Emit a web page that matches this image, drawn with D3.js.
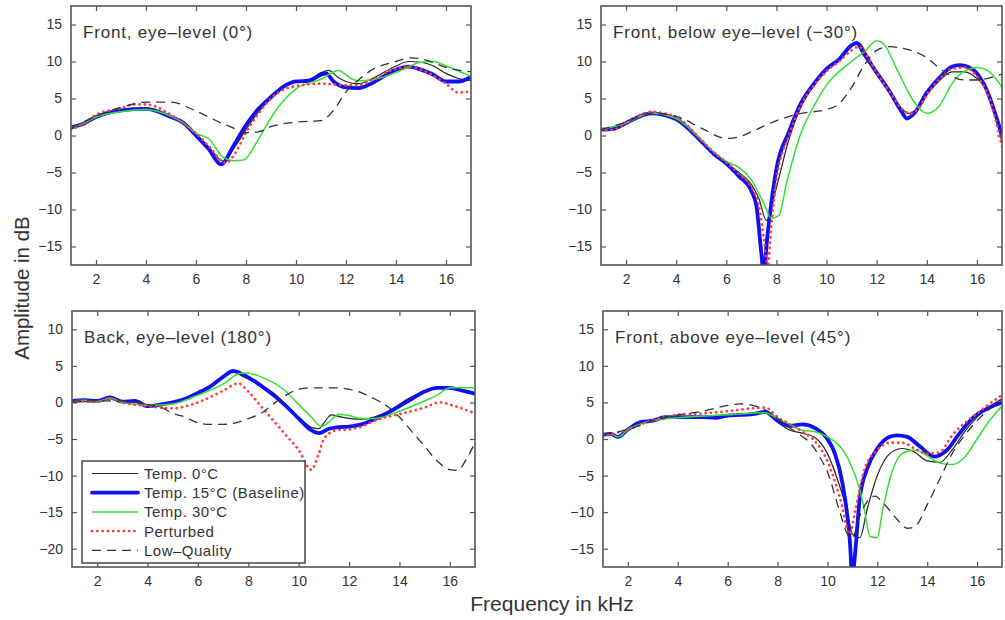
<!DOCTYPE html>
<html>
<head>
<meta charset="utf-8">
<script src="https://cdn.jsdelivr.net/npm/d3@7"></script>
<style>
body { margin: 0; background: #fff; }
svg text { font-family: "Liberation Sans", Arial, sans-serif; fill: #333; }
</style>
</head>
<body>
<div id="chart"></div>
<script>
// legend / series labels
const seriesNames = ["Temp. 0\u00b0C", "Temp. 15\u00b0C (Baseline)", "Temp. 30\u00b0C", "Perturbed", "Low\u2013Quality"];
const xTicks = [2, 4, 6, 8, 10, 12, 14, 16];
const yTicksA = [-15, -10, -5, 0, 5, 10, 15];
const yTicksB = [-20, -15, -10, -5, 0, 5, 10];
const panelTitles = ["Front, eye\u2013level (0\u00b0)", "Front, below eye\u2013level (\u221230\u00b0)",
                     "Back, eye\u2013level (180\u00b0)", "Front, above eye\u2013level (45\u00b0)"];

// ---- Front, eye-level (0°) : [kHz, dB]
const p1Temp0 = [[1,1.1],[1.5,1.6],[2,2.6],[3,3.4],[4,3.7],[5,2.6],[5.5,1.9],[6,0.2],[6.5,-1.5],[7.1,-3.5],[7.5,-1.8],[8,0.8],[8.5,3.2],[9,5],[9.5,6.5],[10,7.3],[10.5,7.5],[11,8.5],[11.3,8.8],[11.7,7.8],[12,7.3],[12.5,7],[13,7.6],[14,9.4],[14.5,10],[15,9.9],[15.5,9.4],[16,8.4],[16.5,7.7],[17,7.4]];
const p1Temp15 = [[1,1.1],[1.5,1.6],[2,2.5],[3,3.4],[4,3.6],[5,2.5],[5.5,1.7],[6,0],[6.5,-1.8],[7,-3.9],[7.5,-1.4],[8,1.4],[8.5,3.6],[9,5.2],[9.5,6.6],[10,7.3],[10.5,7.4],[11,8.2],[11.2,8.4],[11.5,7.3],[12,6.5],[12.5,6.4],[13,7],[14,8.9],[14.5,9.3],[15,8.9],[15.5,8.2],[16,7.3],[16.5,7.3],[17,7.9]];
const p1Temp30 = [[1,1.1],[1.5,1.6],[2,2.5],[3,3.2],[4,3.5],[5,2.6],[5.5,1.7],[6,0.3],[6.5,-0.4],[7.1,-3],[7.5,-3.4],[7.9,-3.3],[8.5,-0.5],[9,2.4],[9.5,4.7],[10,6.3],[11,7.6],[11.7,8.8],[12.2,7.7],[12.5,7.4],[13,7.5],[14,8.5],[15,9.9],[15.5,10],[16,9.4],[17,8]];
const p1Perturbed = [[1,0.8],[1.5,1.6],[2,2.8],[3,3.7],[3.5,4.2],[4,4.2],[5,2.8],[6,0.3],[6.5,-1.4],[7.2,-3.7],[7.6,-2.2],[8,0.4],[8.5,3],[9,5],[10,6.7],[11,7],[12,6.8],[12.5,6.8],[13,7.5],[14,9],[14.5,9.3],[15,8.9],[16,7],[16.5,5.8],[17,6]];
const p1LowQ = [[1,1],[2,2.6],[3,3.8],[4,4.5],[5,4.5],[6,3.3],[7,1.7],[7.5,1],[8,0.4],[8.5,0.5],[9,1.2],[10,1.8],[11,2],[11.5,3.4],[12,5.9],[12.5,7.5],[13,8.8],[14,10],[14.6,10.5],[15.2,10.2],[16,9.2],[17,8.6]];

// ---- Front, below eye-level (-30°)
const p2Temp0 = [[1,0.8],[1.5,0.9],[2,1.7],[3,3],[4,2.3],[5,-0.7],[5.5,-2.4],[6,-3.7],[6.5,-5],[7,-6.6],[7.3,-8.5],[7.6,-11.5],[8,-7],[8.5,-0.5],[9,4],[9.5,6.8],[10,8.8],[10.5,10.2],[11,12],[11.3,12.5],[11.6,11],[12,8.6],[12.5,6.2],[13,3.6],[13.3,3],[13.7,4],[14,5.5],[14.5,7.4],[15,8.6],[15.5,8.6],[16,7.7],[16.5,5.5],[17,-1]];
const p2Temp15 = [[1,0.8],[1.5,0.9],[2,1.7],[3,3],[4,2.2],[5,-0.8],[5.5,-2.5],[6,-3.8],[6.5,-5.5],[7,-7.5],[7.2,-9.5],[7.4,-16],[7.5,-19],[7.6,-15],[7.8,-9],[8,-4.5],[8.5,0.5],[9,4.5],[9.5,7],[10,9],[10.5,10.3],[11,12.2],[11.2,12.5],[11.5,11],[12,8.5],[12.5,6],[13,3.2],[13.2,2.3],[13.5,3],[14,5.8],[14.5,7.8],[15,9.3],[15.3,9.5],[15.8,9],[16.3,6.8],[17,0]];
const p2Temp30 = [[1,0.8],[2,1.7],[3,3],[4,2.3],[5,-0.6],[5.5,-2.2],[6,-3.5],[6.5,-4.3],[7,-6],[7.5,-9.2],[7.8,-11.2],[8.1,-10.8],[8.4,-6.5],[9,0.5],[9.5,4],[10,6.8],[11,10],[11.5,11.3],[12,12.8],[12.3,12.3],[12.8,9],[13.5,4.5],[14,3],[14.5,4],[15,7],[15.5,8.7],[16,9.2],[16.5,8.6],[17,6.5]];
const p2Perturbed = [[1,0.7],[1.5,0.8],[2,1.7],[3,3.2],[4,2.5],[5,-0.6],[5.5,-2.3],[6,-3.6],[6.5,-5.2],[7,-7],[7.3,-9.5],[7.5,-14],[7.65,-17.5],[7.8,-12],[8,-6],[8.5,0],[9,4.2],[9.5,6.8],[10,8.7],[10.5,10],[11,11.5],[11.3,12],[11.6,10.8],[12,8.5],[12.5,6],[13,3.6],[13.3,3],[13.7,3.8],[14,5.5],[14.5,7.6],[15,9],[15.5,9.2],[16,8],[16.5,5],[17,-1.5]];
const p2LowQ = [[1,0.8],[2,1.8],[3,3],[4,2.6],[5,1],[6,-0.4],[6.5,-0.2],[7,0.5],[8,2],[9,3],[10,3.5],[10.5,4.3],[11,6.5],[11.5,9.5],[12,11.5],[12.5,12],[13,11.8],[14,10.5],[14.5,9.1],[15,8],[15.5,7.5],[16,7.5],[16.5,7.8],[17,8.3]];

// ---- Back, eye-level (180°)
const p3Temp0 = [[1,0.2],[1.5,0.4],[2,0.2],[2.5,0.8],[3,0.2],[3.5,0.3],[4,-0.5],[4.5,-0.3],[5,0],[5.5,0.6],[6,1.2],[6.5,2.2],[7,3.4],[7.4,4.2],[7.8,3.5],[8.5,2.3],[9,1.3],[9.5,-0.3],[10,-2],[10.5,-3.4],[10.8,-3.6],[11,-2.8],[11.3,-1.7],[11.7,-2],[12.5,-2.3],[13.5,-1.3],[14.5,0.8],[15.5,2],[16,2],[17,1.3]];
const p3Temp15 = [[1,0.2],[1.5,0.3],[2,0.2],[2.5,0.7],[3,0.1],[3.5,0.2],[4,-0.5],[4.5,-0.3],[5,0],[5.5,0.5],[6,1.3],[6.5,2.2],[7,3.5],[7.4,4.3],[7.8,3.8],[8.5,2.3],[9,1],[9.5,-0.5],[10,-2.2],[10.5,-3.8],[10.8,-4.2],[11.2,-3.6],[11.5,-3.4],[12,-3.3],[12.5,-3],[13,-2.3],[13.5,-1.5],[14,-0.5],[14.5,0.5],[15,1.5],[15.5,2],[16,2],[16.5,1.6],[17,1.2]];
const p3Temp30 = [[1,0.2],[1.5,0.3],[2,0.1],[2.5,0.6],[3,0],[4,-0.4],[5,-0.2],[6,1],[7,2.5],[7.7,4],[8,4],[8.5,3.5],[9,2.7],[9.5,1.5],[10,-0.3],[10.5,-2],[10.9,-3.3],[11.2,-2.7],[11.6,-1.6],[12,-1.8],[12.5,-2.2],[13,-2.2],[14,-1.2],[15,0.2],[15.5,1],[16,2],[17,2]];
const p3Perturbed = [[1,0.2],[2,0.1],[2.5,0.5],[3,0],[4,-0.5],[5,-0.8],[6,0],[7,1.6],[7.6,2.6],[8,1.5],[8.5,-0.5],[9,-2.5],[9.5,-4.5],[10,-6.5],[10.5,-9.2],[10.8,-7],[11,-5],[11.5,-3.8],[12,-3.7],[12.5,-3.3],[13,-2.5],[14,-1.6],[15,-0.7],[15.6,0],[16.2,-0.5],[17,-1.5]];
const p3LowQ = [[1,0.2],[3,0.2],[4,-0.3],[4.5,-0.6],[5,-1.5],[5.5,-2],[6,-2.8],[6.5,-3],[7,-3],[7.5,-2.8],[8,-2.2],[8.5,-1.5],[9,-0.2],[9.5,1],[10,1.8],[10.5,2],[11,2],[11.5,2],[12,1.8],[12.5,1.3],[13,0.5],[13.5,-0.5],[14,-2],[14.5,-4],[15,-6],[15.5,-8],[16,-9.2],[16.3,-9.3],[16.7,-7.5],[17,-5.5]];

// ---- Front, above eye-level (45°)
const p4Temp0 = [[1,0.6],[1.3,0.7],[1.6,0.3],[2,1.3],[2.5,2.3],[3,2.5],[4,3],[5,3.1],[6,3.3],[7,3.4],[7.5,3.6],[8,2.3],[8.5,1.2],[9,0.8],[9.5,0.2],[10,-2],[10.4,-5.5],[10.8,-10],[11,-13],[11.3,-13.5],[11.6,-9.5],[12,-5],[12.5,-2],[13,-1.3],[13.5,-1.8],[14,-3],[14.5,-3.2],[15,-1.5],[15.5,1],[16,3],[17,5.5]];
const p4Temp15 = [[1,0.6],[1.3,0.7],[1.6,0.3],[2,1.3],[2.5,2.3],[3,2.5],[3.5,3],[4,3],[5,3],[5.5,2.9],[6,3.2],[7,3.4],[7.5,3.7],[8,2.5],[8.5,1.8],[9,2],[9.5,1.5],[10,0],[10.3,-2],[10.6,-6],[10.9,-14],[11,-19],[11.1,-16],[11.3,-8],[11.6,-4],[12,-1.3],[12.5,0.3],[12.8,0.5],[13.2,0.3],[13.7,-1],[14.3,-2.4],[14.8,-1.5],[15.3,0.8],[15.8,2.8],[16.5,4.3],[17,5]];
const p4Temp30 = [[1,0.6],[1.3,0.7],[1.6,0.3],[2,1.3],[3,2.5],[4,2.9],[6,3.3],[7.5,3.6],[8,2.8],[8.5,2],[9,1.2],[9.5,1],[10,0.3],[10.5,-1],[10.8,-2.5],[11,-4],[11.3,-7],[11.5,-10],[11.7,-13.3],[12,-13.5],[12.2,-10],[12.5,-5.5],[13,-2],[13.5,-1.5],[14,-2.3],[14.5,-3.3],[15,-3.5],[15.5,-2.5],[16,0],[16.5,2.5],[17,4.5]];
const p4Perturbed = [[1,0.3],[1.5,0.8],[2,1.3],[3,2.6],[4,3.3],[5,3.5],[6,3.8],[7,4.2],[7.5,4.3],[8,3],[8.5,2],[9,1],[9.5,-0.3],[10,-3],[10.5,-8],[10.9,-13],[11.1,-10],[11.5,-4],[12,-1.5],[12.5,-0.5],[13,-0.5],[13.5,-1.3],[14,-2],[14.5,-1.8],[15,0.5],[16,3.5],[17,6]];
const p4LowQ = [[1,0.6],[2,1.3],[3,2.5],[4,3.3],[5,3.8],[6,4.6],[6.5,4.8],[7,4.6],[7.5,4],[8,2.8],[8.5,1.5],[9,0.3],[9.3,-0.5],[9.7,-2.5],[10,-4.5],[10.5,-10],[10.8,-13],[11,-13.5],[11.3,-10.5],[11.6,-8.5],[11.9,-7.8],[12.3,-9],[12.8,-11],[13.2,-12.2],[13.5,-12],[14,-9],[14.5,-5.5],[15,-2],[15.5,0.5],[16,2.5],[17,5.5]];

// line styles, in legend order
const styles = [
    {stroke: "#262626", width: 1.2, dash: null, cap: "butt"},
    {stroke: "#1010f5", width: 3.8, dash: null, cap: "round"},
    {stroke: "#33e033", width: 1.5, dash: null, cap: "butt"},
    {stroke: "#ff3838", width: 2.7, dash: "0.1,5.2", cap: "round"},
    {stroke: "#333333", width: 1.3, dash: "9,6", cap: "butt"}
];

const panels = [
    {title: panelTitles[0], x0: 71, x1: 471, y0: 6, y1: 265, ydom: [-17.5, 17.5], yticks: yTicksA,
     series: [p1Temp0, p1Temp15, p1Temp30, p1Perturbed, p1LowQ]},
    {title: panelTitles[1], x0: 601, x1: 1002, y0: 6, y1: 265, ydom: [-17.5, 17.5], yticks: yTicksA,
     series: [p2Temp0, p2Temp15, p2Temp30, p2Perturbed, p2LowQ]},
    {title: panelTitles[2], x0: 72, x1: 475, y0: 311, y1: 567, ydom: [-22.5, 12.5], yticks: yTicksB,
     series: [p3Temp0, p3Temp15, p3Temp30, p3Perturbed, p3LowQ], legend: true},
    {title: panelTitles[3], x0: 603, x1: 1002, y0: 311, y1: 567, ydom: [-17.5, 17.5], yticks: yTicksA,
     series: [p4Temp0, p4Temp15, p4Temp30, p4Perturbed, p4LowQ]}
];

const svg = d3.select("#chart").append("svg")
    .attr("width", 1005)
    .attr("height", 620);

const frameColor = "#555";

panels.forEach((p, i) => {
    let w = p.x1 - p.x0, h = p.y1 - p.y0;
    let x = d3.scaleLinear().domain([1, 17]).range([0, w]);
    let y = d3.scaleLinear().domain(p.ydom).range([h, 0]);

    let g = svg.append("g").attr("transform", `translate(${p.x0},${p.y0})`);

    g.append("defs").append("clipPath").attr("id", "clip" + i)
        .append("rect").attr("width", w).attr("height", h);

    // axes with inner ticks (matlab box style)
    let ax = [
        g.append("g").attr("transform", `translate(0,${h})`).call(d3.axisBottom(x).tickValues(xTicks).tickSize(-5).tickPadding(9)),
        g.append("g").call(d3.axisTop(x).tickValues(xTicks).tickSize(-5).tickFormat("")),
        g.append("g").call(d3.axisLeft(y).tickValues(p.yticks).tickSize(-5).tickPadding(9).tickFormat(d => d < 0 ? "\u2212" + (-d) : d)),
        g.append("g").attr("transform", `translate(${w},0)`).call(d3.axisRight(y).tickValues(p.yticks).tickSize(-5).tickFormat(""))
    ];
    ax.forEach(a => {
        a.select(".domain").remove();
        a.selectAll(".tick line").attr("stroke", frameColor).attr("stroke-width", 1.2);
        a.selectAll(".tick text").style("font-size", "14px").attr("fill", "#3a3a3a");
    });

    // curves
    let line = d3.line().curve(d3.curveMonotoneX)
        .x(d => x(d[0])).y(d => y(d[1]));
    let lines = g.append("g").attr("clip-path", `url(#clip${i})`);
    p.series.forEach((s, k) => {
        let st = styles[k];
        lines.append("path")
            .datum(s)
            .attr("d", line)
            .attr("fill", "none")
            .attr("stroke", st.stroke)
            .attr("stroke-width", st.width)
            .attr("stroke-linecap", st.cap)
            .attr("stroke-linejoin", "round")
            .attr("stroke-dasharray", st.dash);
    });

    // frame
    g.append("rect").attr("width", w).attr("height", h)
        .attr("fill", "none").attr("stroke", frameColor).attr("stroke-width", 1.6);

    // title
    g.append("text").attr("x", 12).attr("y", 32)
        .style("font-size", "17px")
        .style("letter-spacing", "0.8px")
        .text(p.title);

    // legend
    if (p.legend) {
        let lg = svg.append("g").attr("transform", "translate(82,461)");
        lg.append("rect").attr("width", 223).attr("height", 102)
            .attr("fill", "#fff").attr("stroke", "#444").attr("stroke-width", 1.5);
        seriesNames.forEach((name, k) => {
            let st = styles[k];
            let yy = 12.5 + k * 19.2;
            lg.append("line").attr("x1", 10).attr("x2", 56).attr("y1", yy).attr("y2", yy)
                .attr("stroke", st.stroke).attr("stroke-width", st.width)
                .attr("stroke-linecap", st.cap).attr("stroke-dasharray", st.dash);
            lg.append("text").attr("x", 62).attr("y", yy + 5.5)
                .style("font-size", "15px")
                .style("letter-spacing", "0.5px")
                .text(name);
        });
    }
});

// shared axis labels
svg.append("text")
    .attr("transform", "translate(29,288) rotate(-90)")
    .attr("text-anchor", "middle")
    .style("font-size", "20.5px")
    .attr("fill", "#222")
    .text("Amplitude in dB");

svg.append("text")
    .attr("x", 552).attr("y", 611)
    .attr("text-anchor", "middle")
    .style("font-size", "21px")
    .attr("fill", "#222")
    .text("Frequency in kHz");
</script>
</body>
</html>
